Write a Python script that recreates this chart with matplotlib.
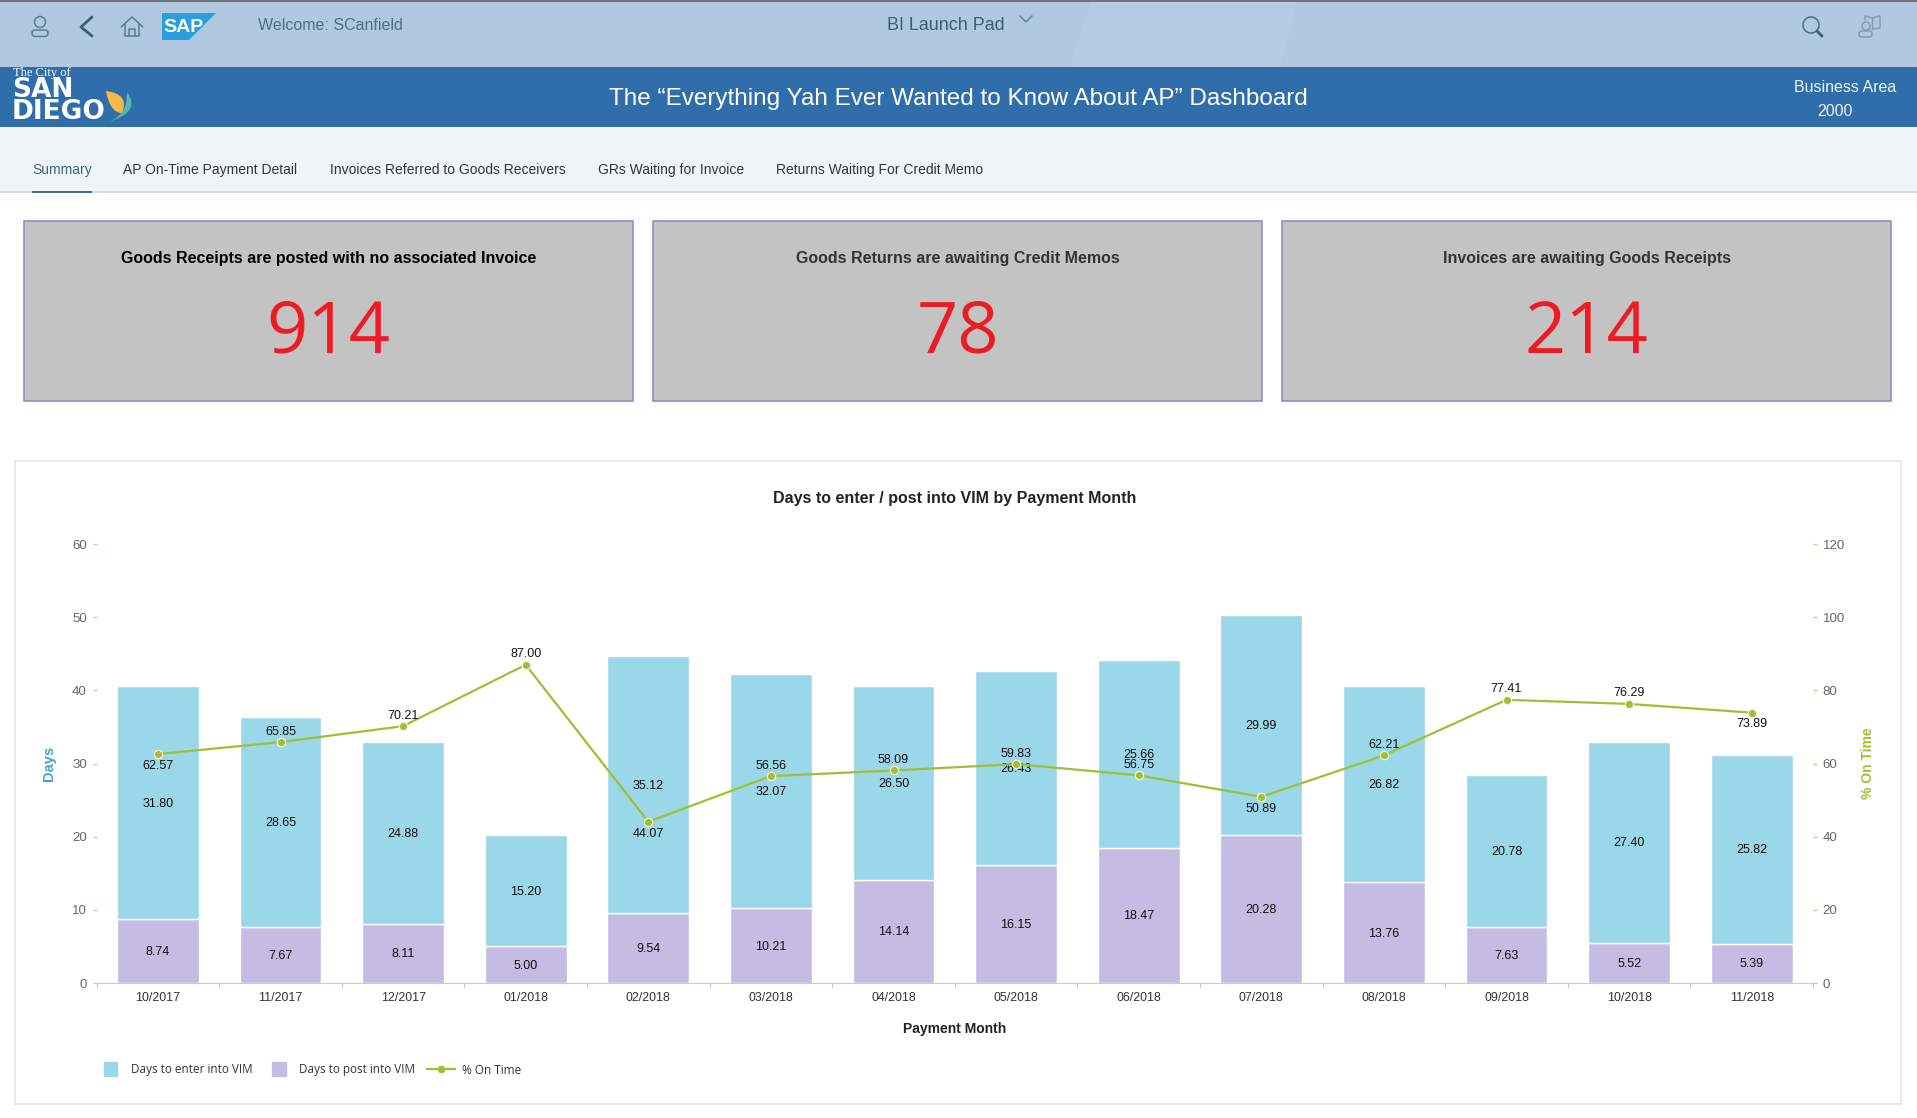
"""Recreate the AP dashboard screenshot with the VIM days chart."""

import matplotlib

matplotlib.use("Agg")
import matplotlib.pyplot as plt
from matplotlib.legend_handler import HandlerPatch
from matplotlib.lines import Line2D
from matplotlib.patches import Circle, FancyBboxPatch, PathPatch, Polygon, Rectangle
from matplotlib.path import Path

W, H = 1917, 1118

months = ["10/2017", "11/2017", "12/2017", "01/2018", "02/2018", "03/2018", "04/2018",
          "05/2018", "06/2018", "07/2018", "08/2018", "09/2018", "10/2018", "11/2018"]
days_enter = [31.80, 28.65, 24.88, 15.20, 35.12, 32.07, 26.50,
              26.43, 25.66, 29.99, 26.82, 20.78, 27.40, 25.82]
days_post = [8.74, 7.67, 8.11, 5.00, 9.54, 10.21, 14.14,
             16.15, 18.47, 20.28, 13.76, 7.63, 5.52, 5.39]
pct_on_time = [62.57, 65.85, 70.21, 87.00, 44.07, 56.56, 58.09,
               59.83, 56.75, 50.89, 62.21, 77.41, 76.29, 73.89]

tabs = ["Summary", "AP On-Time Payment Detail", "Invoices Referred to Goods Receivers",
        "GRs Waiting for Invoice", "Returns Waiting For Credit Memo"]
card_titles = ["Goods Receipts are posted with no associated Invoice",
               "Goods Returns are awaiting Credit Memos",
               "Invoices are awaiting Goods Receipts"]
card_values = ["914", "78", "214"]

BLUE = "#9ad7e9"
PURPLE = "#c4bce3"
GREEN = "#a0bf35"
ICON = "#5d7a95"

plt.rcParams["font.family"] = ["Liberation Sans", "DejaVu Sans"]

fig = plt.figure(figsize=(W / 100, H / 100), dpi=100, facecolor="#fefefe")

# page chrome is drawn in pixel coordinates on a full-figure axes
bg = fig.add_axes([0, 0, 1, 1], zorder=0)
bg.set_xlim(0, W)
bg.set_ylim(H, 0)
bg.axis("off")


def rect(x0, y0, x1, y1, **kw):
    bg.add_patch(Rectangle((x0, y0), x1 - x0, y1 - y0, **kw))


def stroke(points, color=ICON, lw=1.1):
    xs, ys = zip(*points)
    bg.plot(xs, ys, color=color, lw=lw, solid_capstyle="round", solid_joinstyle="round")


def curve(verts, **kw):
    codes = [Path.MOVETO, Path.CURVE3, Path.CURVE3, Path.CURVE3, Path.CURVE3]
    bg.add_patch(PathPatch(Path(verts, codes), lw=0, **kw))


# shell bar
rect(0, 0, W, 67, color="#b0c9e1", lw=0)
bg.add_patch(Polygon([(1092, 0), (1298, 0), (1280, 67), (1070, 67)], color="#b4cce4", lw=0))
rect(0, 0, W, 1.6, color="#70757b", lw=0)
rect(0, 67, W, 127, color="#2f6eab", lw=0)
rect(0, 127, W, 191, color="#eff4f9", lw=0)
rect(0, 191, W, 193, color="#d3dce6", lw=0)
rect(32, 190.5, 92, 193, color="#44708f", lw=0)

# person, back, home icons
bg.add_patch(Circle((40, 22), 5.5, fill=False, ec=ICON, lw=1.1))
bg.add_patch(FancyBboxPatch((32, 30), 16, 6.5, boxstyle="round,pad=0,rounding_size=3",
                            fill=False, ec=ICON, lw=1.1))
stroke([(92, 17), (81, 27), (92, 36)], color="#3f5c78", lw=2)
stroke([(121, 27), (132, 17), (143, 27)])
stroke([(125, 24), (125, 36), (139, 36), (139, 24)])
stroke([(129, 36), (129, 29), (135, 29), (135, 36)])

# SAP logo
bg.add_patch(Polygon([(162, 13), (216, 13), (189, 40), (162, 40)], color="#2a9fdb", lw=0))
bg.text(163, 27.5, "SAP", color="white", fontsize=14, fontweight="bold", va="center", ha="left")

bg.text(258, 25.5, "Welcome: SCanfield", color="#4f6c87", fontsize=11.5, va="center")
bg.text(946, 26, "BI Launch Pad", color="#3f5c78", fontsize=12.9, va="center", ha="center")
stroke([(1020, 16), (1026, 22), (1032, 16)], lw=1)

# search and user-book icons
bg.add_patch(Circle((1811, 25), 8, fill=False, ec="#4f6c87", lw=1.1))
stroke([(1817, 31), (1822, 36)], color="#3f5c78", lw=2)
LIGHT = "#8299b0"
bg.add_patch(Circle((1866, 26), 4, fill=False, ec=LIGHT, lw=1))
bg.add_patch(FancyBboxPatch((1859, 31), 13, 6, boxstyle="round,pad=0,rounding_size=2.5",
                            fill=False, ec=LIGHT, lw=1))
stroke([(1865, 20), (1865, 16), (1872, 18), (1880, 16), (1880, 28), (1872, 29)], color=LIGHT, lw=1)
stroke([(1872, 18), (1872, 29)], color=LIGHT, lw=1)

# City of San Diego logo
curve([(106, 91), (130, 94), (122, 113), (110, 113), (106, 91)], color="#f4b942")
curve([(127, 92), (142, 112), (108, 122), (128, 115), (127, 92)], color="#55b7b0")
bg.text(13, 73, "The City of", color="white", fontsize=9, family=["Liberation Serif"], va="center")
bg.text(12, 119, "SAN\nDIEGO", color="white", fontsize=19, fontweight="bold", linespacing=0.82,
        family=["DejaVu Sans"], va="baseline", ha="left")

bg.text(958, 98.5, "The “Everything Yah Ever Wanted to Know About AP” Dashboard",
        color="white", fontsize=17.45, va="center", ha="center")
bg.text(1845, 87, "Business Area", color="#eef4fa", fontsize=11.5, va="center", ha="center")
bg.text(1835, 111, "2000", color="#eef4fa", fontsize=11.5, va="center", ha="center")

for tab, x in zip(tabs, [32, 123, 330, 598, 776]):
    bg.text(x, 170, tab, fontsize=10.02, va="center",
            color="#3f6481" if tab == "Summary" else "#32363a")

# KPI cards
for i, (title, value) in enumerate(zip(card_titles, card_values)):
    x0 = 24 + i * 629.2
    rect(x0, 221, x0 + 609, 401, fc="#c3c3c3", ec="#8a87c8", lw=1.1)
    bg.text(x0 + 304.5, 258, title, fontsize=11.5, fontweight="bold", va="center", ha="center",
            color="black" if i == 0 else "#333333")
    bg.text(x0 + 304.5, 334, value, fontsize=52, color="#ed1c24", va="center", ha="center",
            family=["Open Sans"])

# chart panel
rect(15, 461, 1901, 1104, fc="white", ec="#e4e6e8", lw=1.2)
bg.text(955, 499, "Days to enter / post into VIM by Payment Month", fontsize=11.5,
        fontweight="bold", color="#222222", va="center", ha="center")

ax = fig.add_axes([96.6 / W, 1 - 983 / H, (1813 - 96.6) / W, (983 - 544) / H], zorder=1)
ax.patch.set_alpha(0)
pos = list(range(len(months)))

bars_post = ax.bar(pos, days_post, width=0.668, color=PURPLE, edgecolor="white", linewidth=1,
                   label="Days to post into VIM")
bars_enter = ax.bar(pos, days_enter, width=0.668, bottom=days_post, color=BLUE,
                    edgecolor="white", linewidth=1, label="Days to enter into VIM")
for bars in (bars_post, bars_enter):
    for lab in ax.bar_label(bars, fmt="%.2f", label_type="center", fontsize=9, color="#111111"):
        lab.xyann = (0, -0.7)

ax.set_xlim(-0.5, len(months) - 0.5)
ax.set_ylim(0, 60)
ax.set_yticks(range(0, 61, 10))
ax.set_xticks([p - 0.5 for p in pos] + [len(months) - 0.5])
ax.set_xticklabels([])
ax.set_xticks(pos, minor=True)
ax.set_xticklabels(months, minor=True, fontsize=8.9, color="#333333")
ax.tick_params(axis="x", which="major", length=3.6, width=0.8, color="#c8ccd0")
ax.tick_params(axis="x", which="minor", length=0, pad=6.8)
ax.tick_params(axis="y", length=3, width=0.9, color=BLUE, labelsize=9.5, labelcolor="#666666", pad=4)
for side in ["top", "left", "right"]:
    ax.spines[side].set_visible(False)
ax.spines["bottom"].set_color("#c8ccd0")
ax.set_axisbelow(False)

ax2 = ax.twinx()
ax2.patch.set_alpha(0)
line, = ax2.plot(pos, pct_on_time, color=GREEN, lw=1.6, marker="o", markersize=6,
                 markerfacecolor=GREEN, markeredgecolor="#f2f7dc", markeredgewidth=0.9,
                 label="% On Time")
ax2.set_ylim(0, 120)
ax2.set_yticks(range(0, 121, 20))
ax2.tick_params(axis="y", length=3, width=0.9, color="#b9d06c", labelsize=9.5, labelcolor="#666666", pad=4)
for side in ["top", "left", "right", "bottom"]:
    ax2.spines[side].set_visible(False)

# these months carry their label under the marker
label_below = {"10/2017", "02/2018", "07/2018", "11/2018"}
for month, p, value in zip(months, pos, pct_on_time):
    offset = -8.5 if month in label_below else 7.5
    ax2.annotate(f"{value:.2f}", (p, value), xytext=(0, offset), textcoords="offset points",
                 ha="center", va="center", fontsize=9, color="#111111")

fig.text(49 / W, 1 - 763 / H, "Days", rotation=90, color="#3fa5d0", fontsize=10.5, fontweight="bold",
         va="center", ha="center")
fig.text(1868 / W, 1 - 763 / H, "% On Time", rotation=90, color=GREEN, fontsize=10, fontweight="bold",
         va="center", ha="center")
fig.text(955 / W, 1 - 1029 / H, "Payment Month", color="#222222", fontsize=10, fontweight="bold",
         va="center", ha="center")


def square_patch(legend, orig_handle, xdescent, ydescent, width, height, fontsize):
    return Rectangle((width / 2 - 5, height / 2 - 5), 10, 10)


legend_font = {"family": "Open Sans", "size": 8.5}
handles = [Rectangle((0, 0), 1, 1, color=BLUE), Rectangle((0, 0), 1, 1, color=PURPLE),
           Line2D([], [], color=GREEN, lw=1.6, marker="o", markersize=4.5)]
fig.legend(handles, ["Days to enter into VIM", "Days to post into VIM", "% On Time"],
           handler_map={Rectangle: HandlerPatch(patch_func=square_patch)},
           loc="center left", bbox_to_anchor=(96.5 / W, 1 - 1070 / H), bbox_transform=fig.transFigure,
           ncol=3, frameon=False, prop=legend_font, labelcolor="#333333", borderpad=0, borderaxespad=0,
           handlelength=2.37, handletextpad=0.55, columnspacing=1.02, numpoints=1)

fig.savefig("out.png", dpi=100, facecolor=fig.get_facecolor())
